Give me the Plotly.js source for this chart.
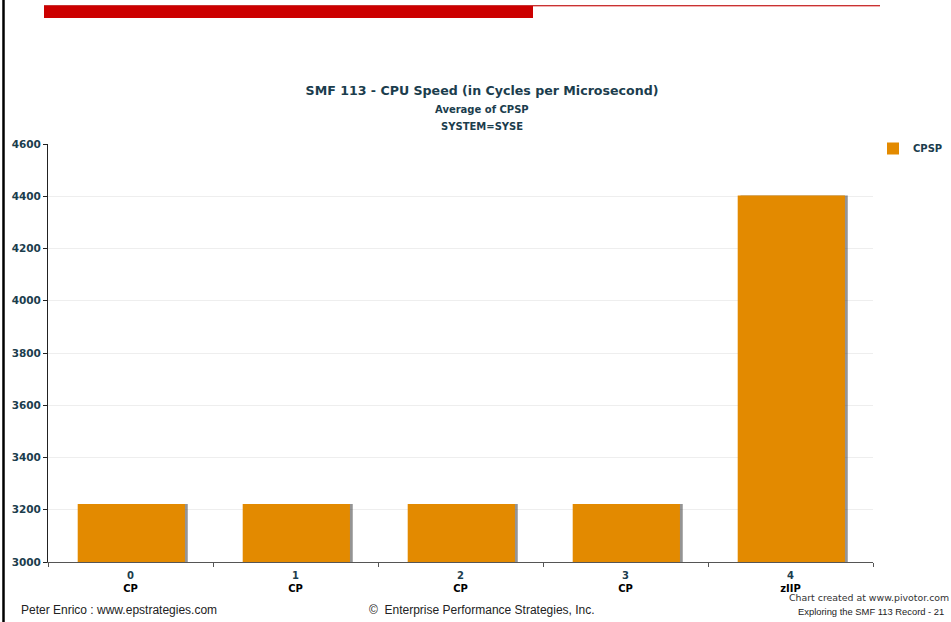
<!DOCTYPE html>
<html>
<head>
<meta charset="utf-8">
<script src="https://cdn.plot.ly/plotly-3.0.1.min.js"></script>
<style>
  html, body { margin: 0; padding: 0; background: #ffffff; }
  #chart { width: 951px; height: 622px; }
</style>
</head>
<body>
<div id="chart"></div>
<script>
// CPU speed per processor (SMF 113, CPSP), system SYSE
const cpuIds = ['0', '1', '2', '3', '4'];
const cpuTypes = ['CP', 'CP', 'CP', 'CP', 'zIIP'];
const cpspValues = [3222, 3222, 3222, 3222, 4403];
const yTicks = [3000, 3200, 3400, 3600, 3800, 4000, 4200, 4400, 4600];

const teal = '#1b3d4d';
const barColor = '#e38a00';
const W = 951, H = 622;
const M = { l: 48, r: 78, t: 144, b: 60 };
const plotW = W - M.l - M.r, plotH = H - M.t - M.b;
// helpers turning page pixels into paper coordinates for page furniture
const px = x => (x - M.l) / plotW;
const py = y => (H - M.b - y) / plotH;

const tickText = cpuIds.map((id, i) =>
  '<span style="color:' + teal + '">' + id + '</span><br><span style="color:#000">' + cpuTypes[i] + '</span>');

const barWidth = 0.65;

const shadow = {
  type: 'bar',
  x: cpuIds,
  y: cpspValues,
  width: barWidth,
  offset: -barWidth / 2 + 0.022,
  marker: { color: 'rgba(60,60,60,0.55)', line: { width: 0 } },
  showlegend: false,
  hoverinfo: 'skip'
};

const bars = {
  type: 'bar',
  name: 'CPSP',
  x: cpuIds,
  y: cpspValues,
  width: barWidth,
  offset: -barWidth / 2 + 0.005,
  marker: { color: barColor, line: { width: 0 } }
};

const footFont = { family: 'Liberation Sans, Arial, sans-serif', size: 12, color: '#222' };

const layout = {
  width: W,
  height: H,
  autosize: false,
  margin: M,
  paper_bgcolor: '#ffffff',
  plot_bgcolor: '#ffffff',
  barmode: 'overlay',
  showlegend: true,
  title: {
    text: 'SMF 113 - CPU Speed (in Cycles per Microsecond)',
    font: { family: 'DejaVu Sans, Verdana, sans-serif', size: 12.6, weight: 'bold', color: teal },
    x: 482 / W,
    xanchor: 'center',
    xref: 'container',
    y: 1 - 91 / H,
    yanchor: 'middle',
    yref: 'container',
    automargin: false
  },
  legend: {
    xref: 'container',
    yref: 'container',
    x: 873 / W,
    y: 1 - 134 / H,
    xanchor: 'left',
    yanchor: 'top',
    bgcolor: 'rgba(0,0,0,0)',
    font: { family: 'DejaVu Sans, Verdana, sans-serif', size: 10, weight: 'bold', color: teal },
    itemwidth: 30,
    tracegroupgap: 0
  },
  xaxis: {
    type: 'category',
    tickvals: cpuIds,
    ticktext: tickText,
    tickson: 'boundaries',
    ticks: 'outside',
    ticklen: 4,
    tickcolor: '#555',
    ticklabelstandoff: 4,
    showline: true,
    linecolor: '#555',
    linewidth: 1,
    showgrid: false,
    zeroline: false,
    tickfont: { family: 'DejaVu Sans, Verdana, sans-serif', size: 10, weight: 'bold', color: '#000' },
    range: [-0.5, 4.5],
    fixedrange: true
  },
  yaxis: {
    range: [3000, 4600],
    tickvals: yTicks,
    ticktext: yTicks.map(String),
    ticks: 'outside',
    ticklen: 4,
    tickcolor: '#222',
    showline: true,
    linecolor: '#222',
    linewidth: 1,
    showgrid: true,
    gridcolor: '#eeeeee',
    gridwidth: 1,
    zeroline: false,
    tickfont: { family: 'DejaVu Sans, Verdana, sans-serif', size: 10.5, weight: 'bold', color: teal },
    fixedrange: true
  },
  annotations: [
    {
      text: 'Average of CPSP', xref: 'paper', yref: 'paper',
      x: px(482), y: py(109), xanchor: 'center', yanchor: 'middle', showarrow: false,
      font: { family: 'DejaVu Sans, Verdana, sans-serif', size: 10, weight: 'bold', color: teal }
    },
    {
      text: 'SYSTEM=SYSE', xref: 'paper', yref: 'paper',
      x: px(482), y: py(126), xanchor: 'center', yanchor: 'middle', showarrow: false,
      font: { family: 'DejaVu Sans, Verdana, sans-serif', size: 10, weight: 'bold', color: teal }
    },
    {
      text: 'Peter Enrico : www.epstrategies.com', xref: 'paper', yref: 'paper',
      x: px(19), y: py(610), xanchor: 'left', yanchor: 'middle', showarrow: false,
      font: footFont
    },
    {
      text: '\u00a9  Enterprise Performance Strategies, Inc.', xref: 'paper', yref: 'paper',
      x: px(367), y: py(610), xanchor: 'left', yanchor: 'middle', showarrow: false,
      font: footFont
    },
    {
      text: 'Chart created at www.pivotor.com', xref: 'paper', yref: 'paper',
      x: px(787), y: py(597), xanchor: 'left', yanchor: 'middle', showarrow: false,
      font: { family: 'DejaVu Sans, Verdana, sans-serif', size: 9.4, color: '#333' }
    },
    {
      text: 'Exploring the SMF 113 Record - 21', xref: 'paper', yref: 'paper',
      x: px(796), y: py(611), xanchor: 'left', yanchor: 'middle', showarrow: false,
      font: { family: 'Liberation Sans, Arial, sans-serif', size: 9.4, color: '#222' }
    }
  ],
  shapes: [
    // slide border on the left
    { type: 'line', xref: 'paper', yref: 'paper', x0: px(3.5), x1: px(3.5), y0: py(0), y1: py(H),
      line: { color: '#000', width: 2.5 } },
    // header rule
    { type: 'line', xref: 'paper', yref: 'paper', x0: px(44), x1: px(880), y0: py(5.5), y1: py(5.5),
      line: { color: '#c83232', width: 1 } },
    { type: 'line', xref: 'paper', yref: 'paper', x0: px(533), x1: px(880), y0: py(6.5), y1: py(6.5),
      line: { color: '#f2b0b0', width: 1 } },
    { type: 'rect', xref: 'paper', yref: 'paper', x0: px(44), x1: px(533), y0: py(6), y1: py(18),
      fillcolor: '#cc0000', line: { width: 0 } }
  ]
};

Plotly.newPlot('chart', [shadow, bars], layout, { staticPlot: true, displayModeBar: false });
</script>
</body>
</html>
